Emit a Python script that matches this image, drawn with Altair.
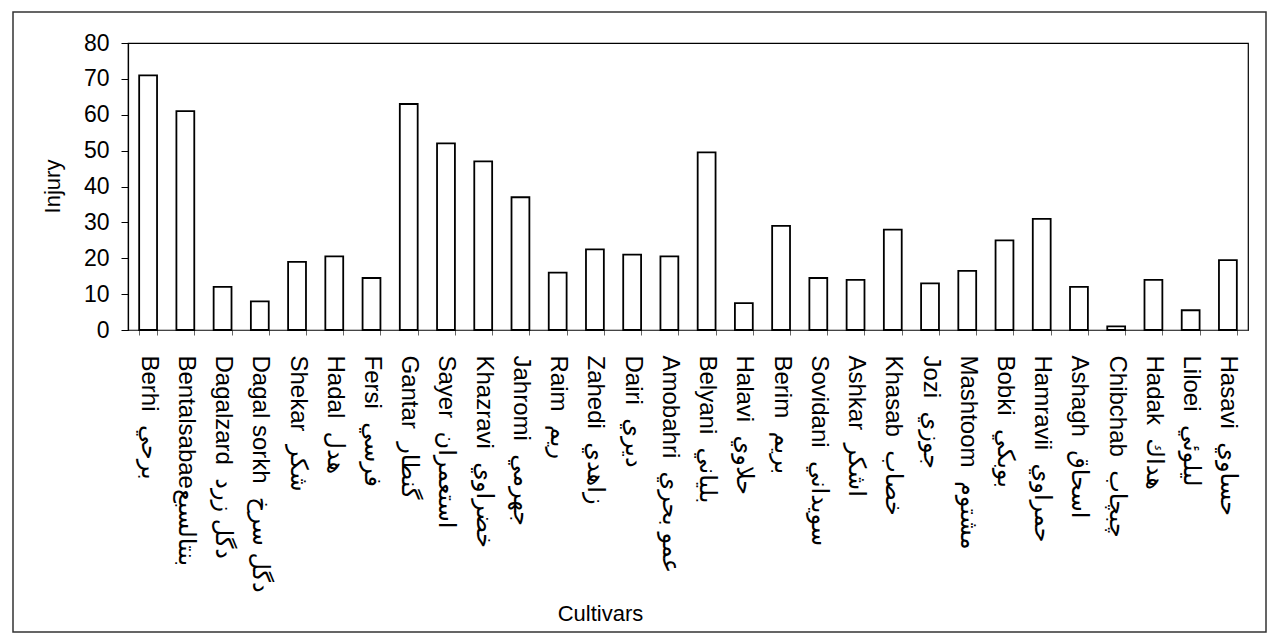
import altair as alt
import pandas as pd

names_en = ["Berhi", "Bentalsabae", "Dagalzard", "Dagal sorkh", "Shekar", "Hadal", "Fersi",
            "Gantar", "Sayer", "Khazravi", "Jahromi", "Raim", "Zahedi", "Dairi", "Amobahri",
            "Belyani", "Halavi", "Berim", "Sovidani", "Ashkar", "Khasab", "Jozi", "Mashtoom",
            "Bobki", "Hamravii", "Ashagh", "Chibchab", "Hadak", "Liloei", "Hasavi"]
names_ar = ["برحي", "بنتالسبع", "دگل زرد", "دگل سرخ", "شكر", "هدل", "فرسي",
            "گنطار", "استعمران", "خضراوي", "جهرمي", "ريم", "زاهدي", "ديري", "عمو بحري",
            "بلياني", "حلاوي", "بريم", "سويداني", "اشكر", "خصاب", "جوزي", "مشتوم",
            "بوبكي", "حمراوي", "اسحاق", "چبچاب", "هداك", "ليلوئي", "حساوي"]
injury = [71, 61, 12, 8, 19, 20.5, 14.5, 63, 52, 47, 37, 16, 22.5, 21, 20.5,
          49.5, 7.5, 29, 14.5, 14, 28, 13, 16.5, 25, 31, 12, 1, 14, 5.5, 19.5]
y_ticks = [0, 10, 20, 30, 40, 50, 60, 70, 80]

sep = "\u00a0\u00a0"
labels = [e + ("" if e == "Bentalsabae" else sep) + a for e, a in zip(names_en, names_ar)]
df = pd.DataFrame({"Cultivar": labels, "Injury": injury})

FONT = "Liberation Sans, Arial, DejaVu Sans"

bars = alt.Chart(df).mark_bar(fill="white", stroke="black", strokeWidth=1.8).encode(
    x=alt.X("Cultivar:N", sort=None,
            scale=alt.Scale(paddingInner=0.52, paddingOuter=0.3),
            axis=alt.Axis(title="Cultivars", labelAngle=90, labelAlign="left",
                          labelBaseline="middle", labelPadding=20, labelLimit=500,
                          labelOverlap=False, labelFontSize=24, labelFont=FONT,
                          labelColor="black", tickBand="extent", tickSize=5,
                          tickColor="#666", domainColor="#444", domainWidth=1.2,
                          titleFontSize=22, titleFont=FONT, titleFontWeight="normal",
                          titleColor="black", titleX=472, titleY=283,
                          titleAlign="center", titleBaseline="middle")),
    y=alt.Y("Injury:Q", scale=alt.Scale(domain=[0, 80], nice=False),
            axis=alt.Axis(title="Injury", values=y_ticks, grid=False, tickSize=7,
                          tickColor="black", domainColor="black", domainWidth=1.2,
                          labelFontSize=23, labelFont=FONT, labelColor="black",
                          labelPadding=12, titleFontSize=22, titleFont=FONT,
                          titleFontWeight="normal", titleColor="black",
                          titleX=-76, titleY=143, titleAlign="center",
                          titleBaseline="middle", titleAngle=270)),
)

frame = alt.Chart(alt.Data(values=[{}])).mark_rect(
    fill=None, stroke="#333", strokeWidth=1.5).encode(
    x=alt.value(-115), x2=alt.value(1138), y=alt.value(-31), y2=alt.value(589))

chart = alt.layer(bars, frame).properties(
    width=1120, height=287,
    background="white",
    autosize=alt.AutoSizeParams(type="none"),
    padding={"left": 120, "top": 35, "right": 20, "bottom": 303},
).configure_view(stroke="black", strokeWidth=1.2)

chart.save("out.html", embed_options={"renderer": "svg", "actions": False})
